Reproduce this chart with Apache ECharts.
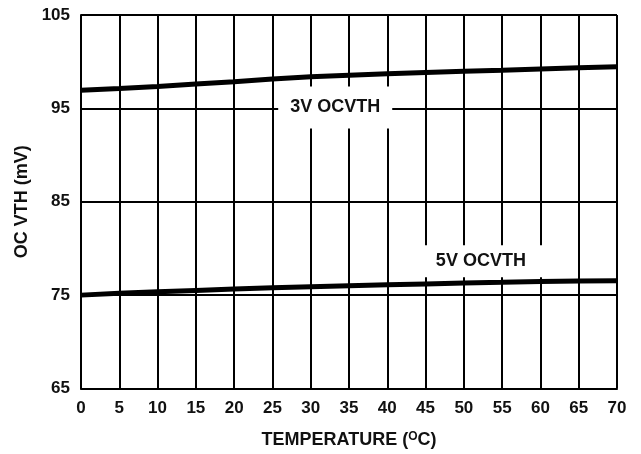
<!DOCTYPE html>
<html>
<head>
<meta charset="utf-8">
<script src="https://cdn.jsdelivr.net/npm/echarts@6/dist/echarts.min.js"></script>
<style>
  html, body { margin: 0; padding: 0; background: #fff; }
  #main { width: 641px; height: 454px; }
</style>
</head>
<body>
<div id="main"></div>
<script>
// temperature (C) on the x axis
const temps = [0, 5, 10, 15, 20, 25, 30, 35, 40, 45, 50, 55, 60, 65, 70];
// OC VTH (mV) readings
const ocvth3V = [96.95, 97.12, 97.35, 97.6, 97.85, 98.15, 98.38, 98.55, 98.7, 98.85, 98.97, 99.07, 99.22, 99.35, 99.47];
const ocvth5V = [75.0, 75.2, 75.35, 75.5, 75.65, 75.78, 75.9, 76.0, 76.1, 76.2, 76.3, 76.37, 76.45, 76.5, 76.55];
const seriesNames = ["3V OCVTH", "5V OCVTH"];

const font = "Liberation Sans, Arial, sans-serif";

function pairs(xs, ys) {
  return xs.map(function (x, i) {
    return [x, ys[i]];
  });
}

function tag(name, coord, pad) {
  return {
    symbol: "rect",
    symbolSize: 1,
    itemStyle: { color: "rgba(0,0,0,0)" },
    label: { show: false },
    data: [
      {
        coord: coord,
        label: {
          show: true,
          position: "inside",
          formatter: name,
          color: "#111",
          fontFamily: font,
          fontWeight: "bold",
          fontSize: 18,
          backgroundColor: "#fff",
          padding: pad,
        },
      },
    ],
  };
}

var chartDom = document.getElementById("main");
var myChart = echarts.init(chartDom);
var option;

option = {
  animation: false,
  backgroundColor: "#fff",
  grid: { left: 81, right: 24, top: 15, bottom: 65 },
  xAxis: {
    type: "value",
    min: 0,
    max: 70,
    interval: 5,
    name: "{a|TEMPERATURE (}{s|O}{a|C)}",
    nameLocation: "middle",
    nameGap: 42,
    nameTextStyle: {
      rich: {
        a: { fontFamily: font, fontWeight: "bold", fontSize: 18, color: "#111" },
        s: { fontFamily: font, fontWeight: "bold", fontSize: 12, color: "#111", verticalAlign: "top", padding: [0, 0, 7, 0] },
      },
    },
    axisLine: { show: true, lineStyle: { color: "#000", width: 2 } },
    axisTick: { show: false },
    axisLabel: {
      color: "#111",
      fontFamily: font,
      fontWeight: "bold",
      fontSize: 17,
      margin: 11,
    },
    splitLine: { show: true, lineStyle: { color: "#000", width: 2 } },
  },
  yAxis: {
    type: "value",
    min: 65,
    max: 105,
    interval: 10,
    name: "OC VTH (mV)",
    nameLocation: "middle",
    nameGap: 50,
    nameTextStyle: {
      fontFamily: font,
      fontWeight: "bold",
      fontSize: 18,
      color: "#111",
    },
    axisLine: { show: true, lineStyle: { color: "#000", width: 2 } },
    axisTick: { show: false },
    axisLabel: {
      color: "#111",
      fontFamily: font,
      fontWeight: "bold",
      fontSize: 17,
      margin: 11,
    },
    splitLine: { show: true, lineStyle: { color: "#000", width: 2 } },
  },
  series: [
    {
      name: seriesNames[0],
      type: "line",
      data: pairs(temps, ocvth3V),
      showSymbol: false,
      lineStyle: { color: "#000", width: 5 },
      z: 3,
      markPoint: tag(seriesNames[0], [33.2, 95.1], [12, 12, 12, 12]),
    },
    {
      name: seriesNames[1],
      type: "line",
      data: pairs(temps, ocvth5V),
      showSymbol: false,
      lineStyle: { color: "#000", width: 5 },
      z: 3,
      markPoint: tag(seriesNames[1], [51.7, 78.64], [7, 20, 7, 28]),
    },
  ],
};

option && myChart.setOption(option);
</script>
</body>
</html>
